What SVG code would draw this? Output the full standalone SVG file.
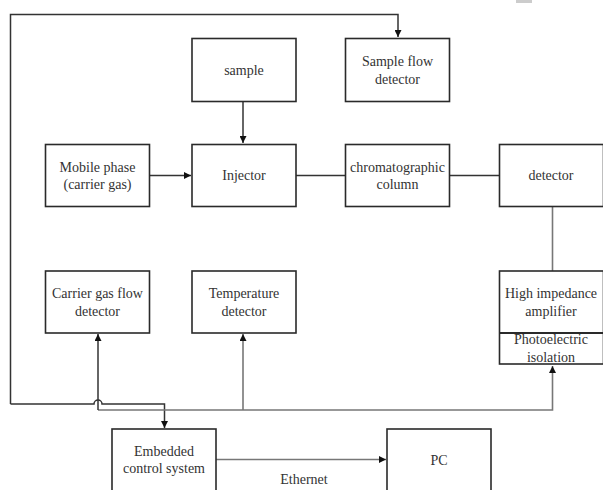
<svg xmlns="http://www.w3.org/2000/svg" width="603" height="490" viewBox="0 0 603 490">
<style>
.box{fill:#fff;stroke:#2a2a2a;stroke-width:1.6}
.t{font-family:"Liberation Serif","Times New Roman",serif;font-size:14px;fill:#333;text-anchor:middle}
.w{fill:none;stroke:#333;stroke-width:1.5}
.g{fill:none;stroke:#777;stroke-width:1.6}
</style>
<defs>
<marker id="ah" viewBox="0 0 10 10" refX="10" refY="5" markerWidth="7" markerHeight="7" markerUnits="userSpaceOnUse" orient="auto">
<path d="M0,0 L10,5 L0,10 z" fill="#111"/>
</marker>
</defs>
<rect x="516" y="0" width="16" height="3" fill="#ccc"/>
<g id="connectors">
<path class="w" d="M10.5,404 V14.5 H398 V37" marker-end="url(#ah)"/>
<path class="w" d="M243,101 V143" marker-end="url(#ah)"/>
<path class="w" d="M150,175.5 H191" marker-end="url(#ah)"/>
<path class="w" d="M296,175.5 H345"/>
<path class="w" d="M450,175.5 H499"/>
<path class="g" d="M552.5,207 V271"/>
<path class="w" d="M10.5,404 H94 A4,4 0 0 1 102,404 H164.5 V428" marker-end="url(#ah)"/>
<path class="g" d="M98,410 H552.5 V366" marker-end="url(#ah)"/>
<path class="w" d="M98,410 V334" marker-end="url(#ah)"/>
<path class="g" d="M243,410 V334" marker-end="url(#ah)"/>
<path class="g" d="M216,459.5 H386" stroke-width="2" marker-end="url(#ah)"/>
<text class="t" x="304" y="484">Ethernet</text>
</g>
<g id="sample"><rect class="box" x="192" y="38.5" width="104" height="63"/><text class="t" x="244" y="75">sample</text></g>
<g id="sample-flow-detector"><rect class="box" x="345.5" y="38.5" width="104" height="63"/><text class="t" x="397.5" y="66">Sample flow</text><text class="t" x="397.5" y="84">detector</text></g>
<g id="mobile-phase"><rect class="box" x="45.5" y="144.5" width="104" height="62"/><text class="t" x="97.5" y="172">Mobile phase</text><text class="t" x="97.5" y="189">(carrier gas)</text></g>
<g id="injector"><rect class="box" x="192" y="144.5" width="104" height="62"/><text class="t" x="244" y="180">Injector</text></g>
<g id="column"><rect class="box" x="345.5" y="144.5" width="104" height="62"/><text class="t" x="397.5" y="172">chromatographic</text><text class="t" x="397.5" y="189">column</text></g>
<g id="detector"><rect class="box" x="499.5" y="144.5" width="104" height="62"/><text class="t" x="551" y="180">detector</text></g>
<g id="carrier-gas-flow-detector"><rect class="box" x="45.5" y="271" width="104" height="62"/><text class="t" x="97.5" y="298">Carrier gas flow</text><text class="t" x="97.5" y="316">detector</text></g>
<g id="temperature-detector"><rect class="box" x="192" y="271" width="104" height="62"/><text class="t" x="244" y="298">Temperature</text><text class="t" x="244" y="316">detector</text></g>
<g id="amplifier"><rect class="box" x="499.5" y="271" width="104" height="93"/><line x1="499.5" y1="333" x2="603" y2="333" stroke="#2a2a2a" stroke-width="2"/><text class="t" x="551" y="298">High impedance</text><text class="t" x="551" y="316">amplifier</text><text class="t" x="551" y="344">Photoelectric</text><text class="t" x="551" y="362">isolation</text></g>
<g id="embedded"><rect class="box" x="112" y="429" width="104" height="70"/><text class="t" x="164" y="456">Embedded</text><text class="t" x="164" y="473">control system</text></g>
<g id="pc"><rect class="box" x="387" y="429" width="104" height="70"/><text class="t" x="439" y="465">PC</text></g>
</svg>
